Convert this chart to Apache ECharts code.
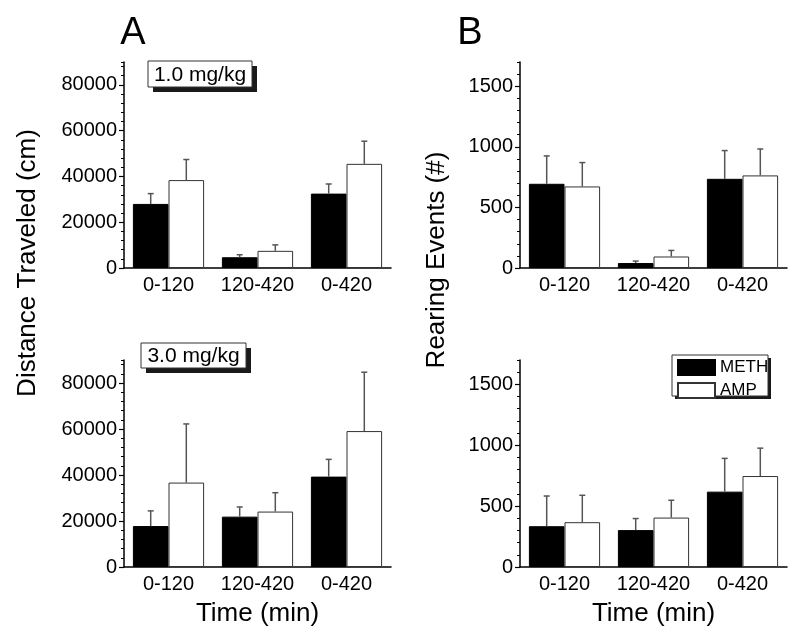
<!DOCTYPE html>
<html>
<head>
<meta charset="utf-8">
<script src="https://cdn.jsdelivr.net/npm/echarts@6/dist/echarts.min.js"></script>
<style>html,body{margin:0;padding:0;background:#fff}#c{width:800px;height:638px}</style>
</head>
<body>
<div id="c"></div>
<script>
// ---- data ----
const categories = ['0-120', '120-420', '0-420'];
const seriesNames = ['METH', 'AMP'];
// Distance traveled (cm), 1.0 mg/kg
const distMeth1 = [28000, 4700, 32500];
const distMeth1Err = [4500, 1100, 4200];
const distAmp1 = [38400, 7500, 45500];
const distAmp1Err = [9000, 2600, 9900];
// Distance traveled (cm), 3.0 mg/kg
const distMeth3 = [17800, 21900, 39300];
const distMeth3Err = [6600, 4200, 7500];
const distAmp3 = [36700, 24100, 59100];
const distAmp3Err = [25500, 8200, 25600];
// Rearing events (#), 1.0 mg/kg
const rearMeth1 = [695, 41, 736];
const rearMeth1Err = [230, 16, 233];
const rearAmp1 = [673, 95, 764];
const rearAmp1Err = [197, 50, 218];
// Rearing events (#), 3.0 mg/kg
const rearMeth3 = [335, 303, 619];
const rearMeth3Err = [248, 95, 273];
const rearAmp3 = [368, 406, 747];
const rearAmp3Err = [221, 142, 229];
// axis settings
const distMax = 90000, distInterval = 20000, distMinor = 4000;
const rearMax = 1700, rearInterval = 500, rearMinor = 100;

const FONT = '"Liberation Sans", Arial, Helvetica, sans-serif';

const chart = echarts.init(document.getElementById('c'), null, {renderer: 'canvas'});

const grids = [
  {left: 124, top: 62, width: 267, height: 206},
  {left: 124, top: 360, width: 267, height: 207},
  {left: 520, top: 62, width: 267, height: 206},
  {left: 520, top: 360, width: 267, height: 207}
];

const xAxes = grids.map((g, i) => ({
  type: 'category', gridIndex: i, data: categories,
  axisLine: {lineStyle: {color: '#000', width: 1.5}},
  axisTick: {show: false},
  axisLabel: {color: '#000', fontSize: 20, fontFamily: FONT, margin: 7, interval: 0, hideOverlap: false},
  name: (i === 1 || i === 3) ? 'Time (min)' : '',
  nameLocation: 'middle', nameGap: 34,
  nameTextStyle: {color: '#000', fontSize: 26, fontFamily: FONT}
}));

function majorAxis(i, max, interval) {
  return {
    type: 'value', gridIndex: i, position: 'left', min: 0, max: max, interval: interval,
    axisLine: {show: true, lineStyle: {color: '#000', width: 1.5}},
    axisTick: {show: true, inside: false, length: 5, lineStyle: {color: '#000', width: 1.2}},
    axisLabel: {color: '#000', fontSize: 20, fontFamily: FONT, margin: 7, showMaxLabel: false,
                formatter: v => String(v)},
    splitLine: {show: false}
  };
}
function minorAxis(i, max, interval) {
  return {
    type: 'value', gridIndex: i, position: 'left', offset: 0, min: 0, max: max, interval: interval,
    axisLine: {show: false},
    axisTick: {show: true, inside: false, length: 3, lineStyle: {color: '#000', width: 1}},
    axisLabel: {show: false},
    splitLine: {show: false}
  };
}
const yAxes = [
  majorAxis(0, distMax, distInterval), majorAxis(1, distMax, distInterval),
  majorAxis(2, rearMax, rearInterval), majorAxis(3, rearMax, rearInterval),
  minorAxis(0, distMax, distMinor), minorAxis(1, distMax, distMinor),
  minorAxis(2, rearMax, rearMinor), minorAxis(3, rearMax, rearMinor)
];

const panels = [
  {meth: distMeth1, methErr: distMeth1Err, amp: distAmp1, ampErr: distAmp1Err},
  {meth: distMeth3, methErr: distMeth3Err, amp: distAmp3, ampErr: distAmp3Err},
  {meth: rearMeth1, methErr: rearMeth1Err, amp: rearAmp1, ampErr: rearAmp1Err},
  {meth: rearMeth3, methErr: rearMeth3Err, amp: rearAmp3, ampErr: rearAmp3Err}
];

function errRender(sign) {
  return function (params, api) {
    const idx = api.value(0);
    const lo = api.coord([idx, api.value(1)]);
    const hi = api.coord([idx, api.value(2)]);
    const bw = api.size([1, 0])[0];
    const x = lo[0] + sign * bw * 0.2;
    const cap = 3;
    return {
      type: 'group',
      children: [
        {type: 'line', shape: {x1: x, y1: lo[1], x2: x, y2: hi[1]},
         style: {stroke: '#555', lineWidth: 1.5}},
        {type: 'line', shape: {x1: x - cap, y1: hi[1], x2: x + cap, y2: hi[1]},
         style: {stroke: '#555', lineWidth: 1.5}}
      ]
    };
  };
}

const series = [];
panels.forEach((p, i) => {
  series.push({
    name: 'METH', type: 'bar', xAxisIndex: i, yAxisIndex: i,
    data: p.meth, barGap: '0%', barCategoryGap: '20%',
    itemStyle: {color: '#000', borderColor: '#000', borderWidth: 1},
    emphasis: {disabled: true}, z: 2
  });
  series.push({
    name: 'AMP', type: 'bar', xAxisIndex: i, yAxisIndex: i,
    data: p.amp, barGap: '0%', barCategoryGap: '20%',
    itemStyle: {color: '#fff', borderColor: '#333', borderWidth: 1},
    emphasis: {disabled: true}, z: 2
  });
  series.push({
    type: 'custom', xAxisIndex: i, yAxisIndex: i, renderItem: errRender(-1),
    data: p.meth.map((v, k) => [k, v, v + p.methErr[k]]), z: 3, silent: true
  });
  series.push({
    type: 'custom', xAxisIndex: i, yAxisIndex: i, renderItem: errRender(1),
    data: p.amp.map((v, k) => [k, v, v + p.ampErr[k]]), z: 3, silent: true
  });
});

function labelBox(x, y, w, h, text) {
  return [
    {type: 'rect', shape: {x: x + 5, y: y + 5, width: w, height: h}, style: {fill: '#1a1a1a'}, z: 1},
    {type: 'rect', shape: {x: x, y: y, width: w, height: h}, style: {fill: '#fff', stroke: '#333', lineWidth: 1}, z: 2},
    {type: 'text', x: x + w / 2, y: y + h / 2 + 1, z: 3,
     style: {text: text, fill: '#000', font: '21px ' + FONT, align: 'center', verticalAlign: 'middle',
             textAlign: 'center', textVerticalAlign: 'middle'}}
  ];
}

const graphics = [].concat(
  labelBox(148, 61, 104, 26, '1.0 mg/kg'),
  labelBox(141, 343, 105, 25, '3.0 mg/kg'),
  [
    {type: 'rect', shape: {x: 675, y: 358, width: 96, height: 41}, style: {fill: '#1a1a1a'}, z: 1},
    {type: 'rect', shape: {x: 672, y: 355, width: 96, height: 41}, style: {fill: '#fff', stroke: '#333', lineWidth: 1}, z: 2},
    {type: 'text', x: 133, y: 34, z: 3,
     style: {text: 'A', fill: '#000', font: '38px ' + FONT, align: 'center', verticalAlign: 'middle',
             textAlign: 'center', textVerticalAlign: 'middle'}},
    {type: 'text', x: 470, y: 34, z: 3,
     style: {text: 'B', fill: '#000', font: '38px ' + FONT, align: 'center', verticalAlign: 'middle',
             textAlign: 'center', textVerticalAlign: 'middle'}},
    {type: 'text', x: 28, y: 263, rotation: Math.PI / 2, z: 3,
     style: {text: 'Distance Traveled (cm)', fill: '#000', font: '26px ' + FONT, align: 'center', verticalAlign: 'middle',
             textAlign: 'center', textVerticalAlign: 'middle'}},
    {type: 'text', x: 437, y: 260, rotation: Math.PI / 2, z: 3,
     style: {text: 'Rearing Events (#)', fill: '#000', font: '26px ' + FONT, align: 'center', verticalAlign: 'middle',
             textAlign: 'center', textVerticalAlign: 'middle'}}
  ]
);

chart.setOption({
  animation: false,
  backgroundColor: '#fff',
  grid: grids,
  xAxis: xAxes,
  yAxis: yAxes,
  series: series,
  legend: {
    data: seriesNames, orient: 'vertical', left: 672, top: 355,
    padding: [4, 5, 4, 5], itemWidth: 37, itemHeight: 15, itemGap: 6,
    icon: 'rect', selectedMode: false, z: 10,
    textStyle: {color: '#000', fontSize: 17, fontFamily: FONT}
  },
  graphic: graphics
});
</script>
</body>
</html>
